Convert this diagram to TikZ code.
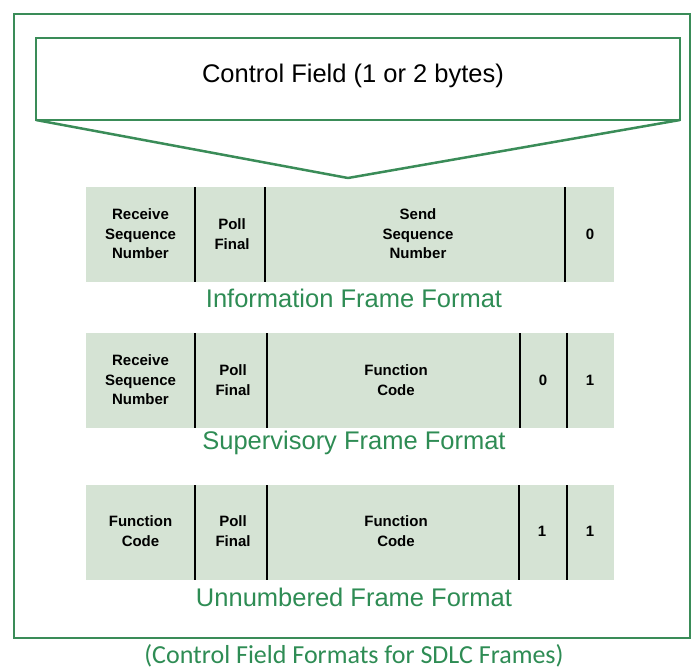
\documentclass[tikz,border=0pt]{standalone}
\usepackage{fontspec}
\setmainfont{Liberation Sans}
\newfontfamily\capfont{Carlito}
\definecolor{frameg}{RGB}{58,140,88}
\definecolor{textg}{RGB}{46,140,84}
\definecolor{cellg}{RGB}{213,227,212}
\begin{document}
\begin{tikzpicture}[x=1pt,y=-1pt,
  cell/.style={font=\fontsize{15}{19.5}\selectfont\bfseries, align=center, inner sep=0pt},
  fmtlabel/.style={font=\fontsize{25.5}{28}\selectfont, text=textg, inner sep=0pt},
  divider/.style={line width=2.5pt, black},
  bar/.style={fill=cellg, draw=none}]
\useasboundingbox (0,0) rectangle (694,670);
% outer frame
\draw[frameg, line width=2pt] (14,14) rectangle (690,638);
% control field box and triangle
\draw[frameg, line width=2.5pt] (36,38) rectangle (680,120);
\node[font=\fontsize{25.5}{28}\selectfont, inner sep=0pt] (cf) at (353,76) {Control Field (1 or 2 bytes)};
\coordinate (tl) at (36,120);
\coordinate (tr) at (680,120);
\coordinate (apex) at (348,178);
\draw[frameg, line width=2.5pt, line join=round] (tl) -- (apex) -- (tr);
% Row 1: Information
\fill[cellg] (86,187) rectangle (614,282);
\draw[divider] (195,187) -- (195,282);
\draw[divider] (265,187) -- (265,282);
\draw[divider] (565,187) -- (565,282);
\node[cell] (i1) at (140.5,234) {Receive\\Sequence\\Number};
\node[cell] (i2) at (232,234) {Poll\\Final};
\node[cell] (i3) at (418,234) {Send\\Sequence\\Number};
\node[cell] (i4) at (590,234) {0};
\node[fmtlabel] (il) at (354,298) {Information Frame Format};
% Row 2: Supervisory
\fill[cellg] (86,333) rectangle (614,428);
\draw[divider] (195,333) -- (195,428);
\draw[divider] (267,333) -- (267,428);
\draw[divider] (520,333) -- (520,428);
\draw[divider] (567,333) -- (567,428);
\node[cell] (s1) at (140.5,380) {Receive\\Sequence\\Number};
\node[cell] (s2) at (233,380) {Poll\\Final};
\node[cell] (s3) at (396,380) {Function\\Code};
\node[cell] (s4) at (543,380) {0};
\node[cell] (s5) at (590,380) {1};
\node[fmtlabel] (sl) at (354,443) {Supervisory Frame Format};
% Row 3: Unnumbered
\fill[cellg] (86,485) rectangle (614,580);
\draw[divider] (195,485) -- (195,580);
\draw[divider] (267,485) -- (267,580);
\draw[divider] (519,485) -- (519,580);
\draw[divider] (567,485) -- (567,580);
\node[cell] (u1) at (140.5,531) {Function\\Code};
\node[cell] (u2) at (233,531) {Poll\\Final};
\node[cell] (u3) at (396,531) {Function\\Code};
\node[cell] (u4) at (542,531) {1};
\node[cell] (u5) at (590,531) {1};
\node[fmtlabel] (ul) at (354,597) {Unnumbered Frame Format};
% caption
\node[font=\capfont\fontsize{26}{30}\selectfont, text=textg, inner sep=0pt] (cap) at (354,656) {(Control Field Formats for SDLC Frames)};
\end{tikzpicture}
\end{document}
